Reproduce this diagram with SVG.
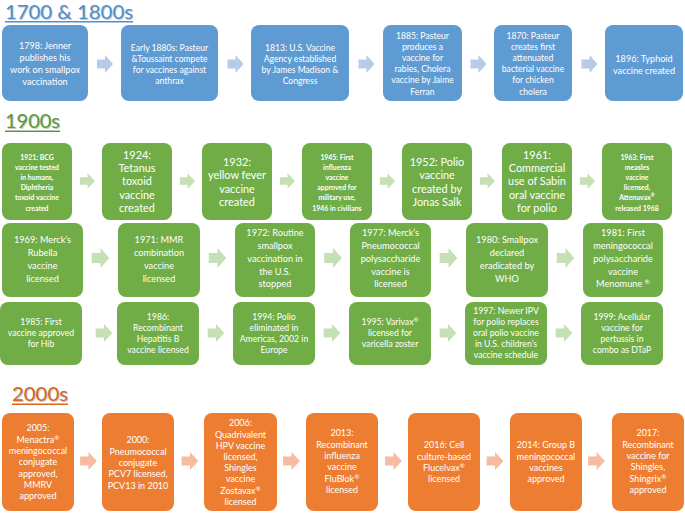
<svg xmlns="http://www.w3.org/2000/svg" width="685" height="513" viewBox="0 0 685 513">
<defs>
<style>
.t{font-family:Lato,"Noto Sans","DejaVu Sans",sans-serif;fill:#fff;text-anchor:middle}
.ttl{font-family:Lato,"Noto Sans","DejaVu Sans",sans-serif;font-size:20px}
.sh{fill:#c8c8c8}
.b{fill:#5f9bd3}
.g{fill:#70ad47}
.o{fill:#ed7d31}
.ab{fill:#b7cbe9}
.ag{fill:#c5e0b4}
.ao{fill:#f6bba0}
.bold{font-weight:bold}
.r1{font-size:8.6px}
.r1b{font-size:9.1px}
.r2a{font-size:10.9px}
.r2s{font-size:6.9px}
.r2b{font-size:9.2px}
.r2c{font-size:8.7px}
.r3{font-size:9px}
.sup{font-size:70%}
</style>
<path id="arr" d="M-8,-4.5H0V-9L8,0L0,9V4.5H-8Z"/>
</defs>
<rect width="685" height="513" fill="#fff"/>

<g id="titles">
<text class="ttl sh" x="6" y="20" textLength="128" lengthAdjust="spacingAndGlyphs">1700 &amp; 1800s</text>
<text class="ttl" x="5" y="19" fill="#4f8fcf" textLength="128" lengthAdjust="spacingAndGlyphs">1700 &amp; 1800s</text>
<rect x="5" y="21" width="128" height="1.5" fill="#4f8fcf"/>
<text class="ttl sh" x="6" y="129" textLength="55" lengthAdjust="spacingAndGlyphs">1900s</text>
<text class="ttl" x="5" y="128" fill="#5c983a" textLength="55" lengthAdjust="spacingAndGlyphs">1900s</text>
<rect x="5" y="130.5" width="55" height="1.5" fill="#5c983a"/>
<text class="ttl sh" x="13" y="402" textLength="56" lengthAdjust="spacingAndGlyphs">2000s</text>
<text class="ttl" x="12" y="401" fill="#d0661f" textLength="56" lengthAdjust="spacingAndGlyphs">2000s</text>
<rect x="12" y="403.5" width="56" height="1.5" fill="#d0661f"/>
</g>

<g id="connectors">
<use href="#arr" class="ab" transform="translate(105,64)"/>
<use href="#arr" class="ab" transform="translate(235.5,64)"/>
<use href="#arr" class="ab" transform="translate(366.5,64)"/>
<use href="#arr" class="ab" transform="translate(478.5,64)"/>
<use href="#arr" class="ab" transform="translate(589.5,64)"/>

<use href="#arr" class="ag" transform="translate(87.5,181) scale(0.95,0.85)"/>
<use href="#arr" class="ag" transform="translate(187.5,181) scale(0.95,0.85)"/>
<use href="#arr" class="ag" transform="translate(287.5,181) scale(0.95,0.85)"/>
<use href="#arr" class="ag" transform="translate(387.5,181) scale(0.95,0.85)"/>
<use href="#arr" class="ag" transform="translate(487.5,181) scale(0.95,0.85)"/>
<use href="#arr" class="ag" transform="translate(587.5,181) scale(0.95,0.85)"/>

<use href="#arr" class="ag" transform="translate(100.5,258) scale(1.1,1.1)"/>
<use href="#arr" class="ag" transform="translate(217.5,258) scale(1.1,1.1)"/>
<use href="#arr" class="ag" transform="translate(333,258) scale(1.1,1.1)"/>
<use href="#arr" class="ag" transform="translate(448.5,258) scale(1.1,1.1)"/>
<use href="#arr" class="ag" transform="translate(565.5,258) scale(1.1,1.1)"/>

<use href="#arr" class="ag" transform="translate(104,333) scale(1.05,1)"/>
<use href="#arr" class="ag" transform="translate(216,333) scale(1.05,1)"/>
<use href="#arr" class="ag" transform="translate(332,333) scale(1.05,1)"/>
<use href="#arr" class="ag" transform="translate(448,333) scale(1.05,1)"/>
<use href="#arr" class="ag" transform="translate(564,333) scale(1.05,1)"/>

<use href="#arr" class="ao" transform="translate(88.5,461) scale(1.05,1)"/>
<use href="#arr" class="ao" transform="translate(190,461) scale(1.05,1)"/>
<use href="#arr" class="ao" transform="translate(291.5,461) scale(1.05,1)"/>
<use href="#arr" class="ao" transform="translate(393.5,461) scale(1.05,1)"/>
<use href="#arr" class="ao" transform="translate(495,461) scale(1.05,1)"/>
<use href="#arr" class="ao" transform="translate(596.5,461) scale(1.05,1)"/>
</g>

<!-- Row 1 -->
<g id="n1798"><rect class="b" x="2" y="25" width="86" height="76" rx="8"/>
<text class="t r1b"><tspan x="45" y="48.5">1798: Jenner</tspan><tspan x="45" dy="12">publishes his</tspan><tspan x="45" dy="12">work on smallpox</tspan><tspan x="45" dy="12">vaccination</tspan></text></g>
<g id="n1880"><rect class="b" x="121" y="25" width="97" height="76" rx="8"/>
<text class="t r1"><tspan x="169.5" y="50.5">Early 1880s: Pasteur</tspan><tspan x="169.5" dy="11">&amp;Toussaint compete</tspan><tspan x="169.5" dy="11">for vaccines against</tspan><tspan x="169.5" dy="11">anthrax</tspan></text></g>
<g id="n1813"><rect class="b" x="251" y="25" width="98" height="76" rx="8"/>
<text class="t r1"><tspan x="300" y="50.5">1813: U.S. Vaccine</tspan><tspan x="300" dy="11">Agency established</tspan><tspan x="300" dy="11">by James Madison &amp;</tspan><tspan x="300" dy="11">Congress</tspan></text></g>
<g id="n1885"><rect class="b" x="383" y="25" width="79" height="76" rx="8"/>
<text class="t r1"><tspan x="422.5" y="38.5">1885: Pasteur</tspan><tspan x="422.5" dy="11.2">produces a</tspan><tspan x="422.5" dy="11.2">vaccine for</tspan><tspan x="422.5" dy="11.2">rabies, Cholera</tspan><tspan x="422.5" dy="11.2">vaccine by Jaime</tspan><tspan x="422.5" dy="11.2">Ferran</tspan></text></g>
<g id="n1870"><rect class="b" x="494" y="25" width="78" height="76" rx="8"/>
<text class="t r1"><tspan x="533" y="38.5">1870: Pasteur</tspan><tspan x="533" dy="11.2">creates first</tspan><tspan x="533" dy="11.2">attenuated</tspan><tspan x="533" dy="11.2">bacterial vaccine</tspan><tspan x="533" dy="11.2">for chicken</tspan><tspan x="533" dy="11.2">cholera</tspan></text></g>
<g id="n1896"><rect class="b" x="605" y="25" width="78" height="76" rx="8"/>
<text class="t r1b"><tspan x="644" y="61.5">1896: Typhoid</tspan><tspan x="644" dy="12">vaccine created</tspan></text></g>

<!-- Row 2a -->
<g id="n1921"><rect class="g" x="2" y="143" width="70" height="77" rx="8"/>
<text class="t bold r2s"><tspan x="37" y="159.5">1921: BCG</tspan><tspan x="37" dy="10.2">vaccine tested</tspan><tspan x="37" dy="10.2">in humans,</tspan><tspan x="37" dy="10.2">Diphtheria</tspan><tspan x="37" dy="10.2">toxoid vaccine</tspan><tspan x="37" dy="10.2">created</tspan></text></g>
<g id="n1924"><rect class="g" x="102" y="143" width="70" height="77" rx="8"/>
<text class="t r2a"><tspan x="137" y="158.8">1924:</tspan><tspan x="137" dy="13.3">Tetanus</tspan><tspan x="137" dy="13.3">toxoid</tspan><tspan x="137" dy="13.3">vaccine</tspan><tspan x="137" dy="13.3">created</tspan></text></g>
<g id="n1932"><rect class="g" x="202" y="143" width="70" height="77" rx="8"/>
<text class="t r2a"><tspan x="237" y="165.8">1932:</tspan><tspan x="237" dy="13.5">yellow fever</tspan><tspan x="237" dy="13.5">vaccine</tspan><tspan x="237" dy="13.5">created</tspan></text></g>
<g id="n1945"><rect class="g" x="302" y="143" width="70" height="77" rx="8"/>
<text class="t bold r2s"><tspan x="337" y="159.5">1945: First</tspan><tspan x="337" dy="10.2">influenza</tspan><tspan x="337" dy="10.2">vaccine</tspan><tspan x="337" dy="10.2">approved for</tspan><tspan x="337" dy="10.2">military use,</tspan><tspan x="337" dy="10.2">1946 in civilians</tspan></text></g>
<g id="n1952"><rect class="g" x="402" y="143" width="70" height="77" rx="8"/>
<text class="t r2a"><tspan x="437" y="165.8">1952: Polio</tspan><tspan x="437" dy="13.5">vaccine</tspan><tspan x="437" dy="13.5">created by</tspan><tspan x="437" dy="13.5">Jonas Salk</tspan></text></g>
<g id="n1961"><rect class="g" x="502" y="143" width="70" height="77" rx="8"/>
<text class="t r2a"><tspan x="537" y="158.8">1961:</tspan><tspan x="537" dy="13.3">Commercial</tspan><tspan x="537" dy="13.3">use of Sabin</tspan><tspan x="537" dy="13.3">oral vaccine</tspan><tspan x="537" dy="13.3">for polio</tspan></text></g>
<g id="n1963"><rect class="g" x="602" y="143" width="70" height="77" rx="8"/>
<text class="t bold r2s"><tspan x="637" y="159.5">1963: First</tspan><tspan x="637" dy="10.2">measles</tspan><tspan x="637" dy="10.2">vaccine</tspan><tspan x="637" dy="10.2">licensed,</tspan><tspan x="637" dy="10.2">Attenuvax<tspan class="sup" baseline-shift="super">®</tspan></tspan><tspan x="637" dy="10.2">released 1968</tspan></text></g>

<!-- Row 2b -->
<g id="n1969"><rect class="g" x="2" y="223" width="81" height="74" rx="8"/>
<text class="t r2b"><tspan x="42.5" y="243.2">1969: Merck’s</tspan><tspan x="42.5" dy="12.8">Rubella</tspan><tspan x="42.5" dy="12.8">vaccine</tspan><tspan x="42.5" dy="12.8">licensed</tspan></text></g>
<g id="n1971"><rect class="g" x="118" y="223" width="82" height="74" rx="8"/>
<text class="t r2b"><tspan x="159" y="243.2">1971: MMR</tspan><tspan x="159" dy="12.8">combination</tspan><tspan x="159" dy="12.8">vaccine</tspan><tspan x="159" dy="12.8">licensed</tspan></text></g>
<g id="n1972"><rect class="g" x="235" y="223" width="80" height="74" rx="8"/>
<text class="t r2b"><tspan x="275" y="236.2">1972: Routine</tspan><tspan x="275" dy="12.8">smallpox</tspan><tspan x="275" dy="12.8">vaccination in</tspan><tspan x="275" dy="12.8">the U.S.</tspan><tspan x="275" dy="12.8">stopped</tspan></text></g>
<g id="n1977"><rect class="g" x="350" y="223" width="81" height="74" rx="8"/>
<text class="t r2b"><tspan x="390.5" y="236.2">1977: Merck’s</tspan><tspan x="390.5" dy="12.8">Pneumococcal</tspan><tspan x="390.5" dy="12.8">polysaccharide</tspan><tspan x="390.5" dy="12.8">vaccine is</tspan><tspan x="390.5" dy="12.8">licensed</tspan></text></g>
<g id="n1980"><rect class="g" x="466" y="223" width="82" height="74" rx="8"/>
<text class="t r2b"><tspan x="507" y="243.2">1980: Smallpox</tspan><tspan x="507" dy="12.8">declared</tspan><tspan x="507" dy="12.8">eradicated by</tspan><tspan x="507" dy="12.8">WHO</tspan></text></g>
<g id="n1981"><rect class="g" x="583" y="223" width="80" height="74" rx="8"/>
<text class="t r2b"><tspan x="623" y="236.2">1981: First</tspan><tspan x="623" dy="12.8">meningococcal</tspan><tspan x="623" dy="12.8">polysaccharide</tspan><tspan x="623" dy="12.8">vaccine</tspan><tspan x="623" dy="12.8">Menomune <tspan class="sup" baseline-shift="super">®</tspan></tspan></text></g>

<!-- Row 2c -->
<g id="n1985"><rect class="g" x="0" y="302" width="82" height="63" rx="8"/>
<text class="t r2c"><tspan x="41" y="325">1985: First</tspan><tspan x="41" dy="11">vaccine approved</tspan><tspan x="41" dy="11">for Hib</tspan></text></g>
<g id="n1986"><rect class="g" x="117" y="302" width="82" height="63" rx="8"/>
<text class="t r2c"><tspan x="158" y="320">1986:</tspan><tspan x="158" dy="11">Recombinant</tspan><tspan x="158" dy="11">Hepatitis B</tspan><tspan x="158" dy="11">vaccine licensed</tspan></text></g>
<g id="n1994"><rect class="g" x="233" y="302" width="82" height="63" rx="8"/>
<text class="t r2c"><tspan x="274" y="320">1994: Polio</tspan><tspan x="274" dy="11">eliminated in</tspan><tspan x="274" dy="11">Americas, 2002 in</tspan><tspan x="274" dy="11">Europe</tspan></text></g>
<g id="n1995"><rect class="g" x="349" y="302" width="82" height="63" rx="8"/>
<text class="t r2c"><tspan x="390" y="325">1995: Varivax<tspan class="sup" baseline-shift="super">®</tspan></tspan><tspan x="390" dy="11">licensed for</tspan><tspan x="390" dy="11">varicella zoster</tspan></text></g>
<g id="n1997"><rect class="g" x="465" y="302" width="82" height="63" rx="8"/>
<text class="t r2c"><tspan x="506" y="314">1997: Newer IPV</tspan><tspan x="506" dy="11">for polio replaces</tspan><tspan x="506" dy="11">oral polio vaccine</tspan><tspan x="506" dy="11">in U.S. children’s</tspan><tspan x="506" dy="11">vaccine schedule</tspan></text></g>
<g id="n1999"><rect class="g" x="581" y="302" width="82" height="63" rx="8"/>
<text class="t r2c"><tspan x="622" y="320">1999: Acellular</tspan><tspan x="622" dy="11">vaccine for</tspan><tspan x="622" dy="11">pertussis in</tspan><tspan x="622" dy="11">combo as DTaP</tspan></text></g>

<!-- Row 3 -->
<g id="n2005"><rect class="o" x="2" y="413" width="72" height="98" rx="8"/>
<text class="t r3"><tspan x="38" y="431.3">2005:</tspan><tspan x="38" dy="11.3">Menactra<tspan class="sup" baseline-shift="super">®</tspan></tspan><tspan x="38" dy="11.3">meningococcal</tspan><tspan x="38" dy="11.3">conjugate</tspan><tspan x="38" dy="11.3">approved,</tspan><tspan x="38" dy="11.3">MMRV</tspan><tspan x="38" dy="11.3">approved</tspan></text></g>
<g id="n2000"><rect class="o" x="102" y="413" width="72" height="98" rx="8"/>
<text class="t r3"><tspan x="138" y="443.3">2000:</tspan><tspan x="138" dy="11.3">Pneumococcal</tspan><tspan x="138" dy="11.3">conjugate</tspan><tspan x="138" dy="11.3">PCV7 licensed,</tspan><tspan x="138" dy="11.3">PCV13 in 2010</tspan></text></g>
<g id="n2006"><rect class="o" x="204" y="413" width="73" height="98" rx="8"/>
<text class="t r3"><tspan x="240.5" y="426.3">2006:</tspan><tspan x="240.5" dy="11.2">Quadrivalent</tspan><tspan x="240.5" dy="11.2">HPV vaccine</tspan><tspan x="240.5" dy="11.2">licensed,</tspan><tspan x="240.5" dy="11.2">Shingles</tspan><tspan x="240.5" dy="11.2">vaccine</tspan><tspan x="240.5" dy="11.2">Zostavax<tspan class="sup" baseline-shift="super">®</tspan></tspan><tspan x="240.5" dy="11.2">licensed</tspan></text></g>
<g id="n2013"><rect class="o" x="306" y="413" width="72" height="98" rx="8"/>
<text class="t r3"><tspan x="342" y="436.3">2013:</tspan><tspan x="342" dy="11.3">Recombinant</tspan><tspan x="342" dy="11.3">influenza</tspan><tspan x="342" dy="11.3">vaccine</tspan><tspan x="342" dy="11.3">FluBlok<tspan class="sup" baseline-shift="super">®</tspan></tspan><tspan x="342" dy="11.3">licensed</tspan></text></g>
<g id="n2016"><rect class="o" x="408" y="413" width="72" height="98" rx="8"/>
<text class="t r3"><tspan x="444" y="448.3">2016: Cell</tspan><tspan x="444" dy="11.3">culture-based</tspan><tspan x="444" dy="11.3">Flucelvax<tspan class="sup" baseline-shift="super">®</tspan></tspan><tspan x="444" dy="11.3">licensed</tspan></text></g>
<g id="n2014"><rect class="o" x="510" y="413" width="72" height="98" rx="8"/>
<text class="t r3"><tspan x="546" y="448.3">2014: Group B</tspan><tspan x="546" dy="11.3">meningococcal</tspan><tspan x="546" dy="11.3">vaccines</tspan><tspan x="546" dy="11.3">approved</tspan></text></g>
<g id="n2017"><rect class="o" x="612" y="413" width="72" height="98" rx="8"/>
<text class="t r3"><tspan x="648" y="436.3">2017:</tspan><tspan x="648" dy="11.3">Recombinant</tspan><tspan x="648" dy="11.3">vaccine for</tspan><tspan x="648" dy="11.3">Shingles,</tspan><tspan x="648" dy="11.3">Shingrix<tspan class="sup" baseline-shift="super">®</tspan></tspan><tspan x="648" dy="11.3">approved</tspan></text></g>
</svg>
